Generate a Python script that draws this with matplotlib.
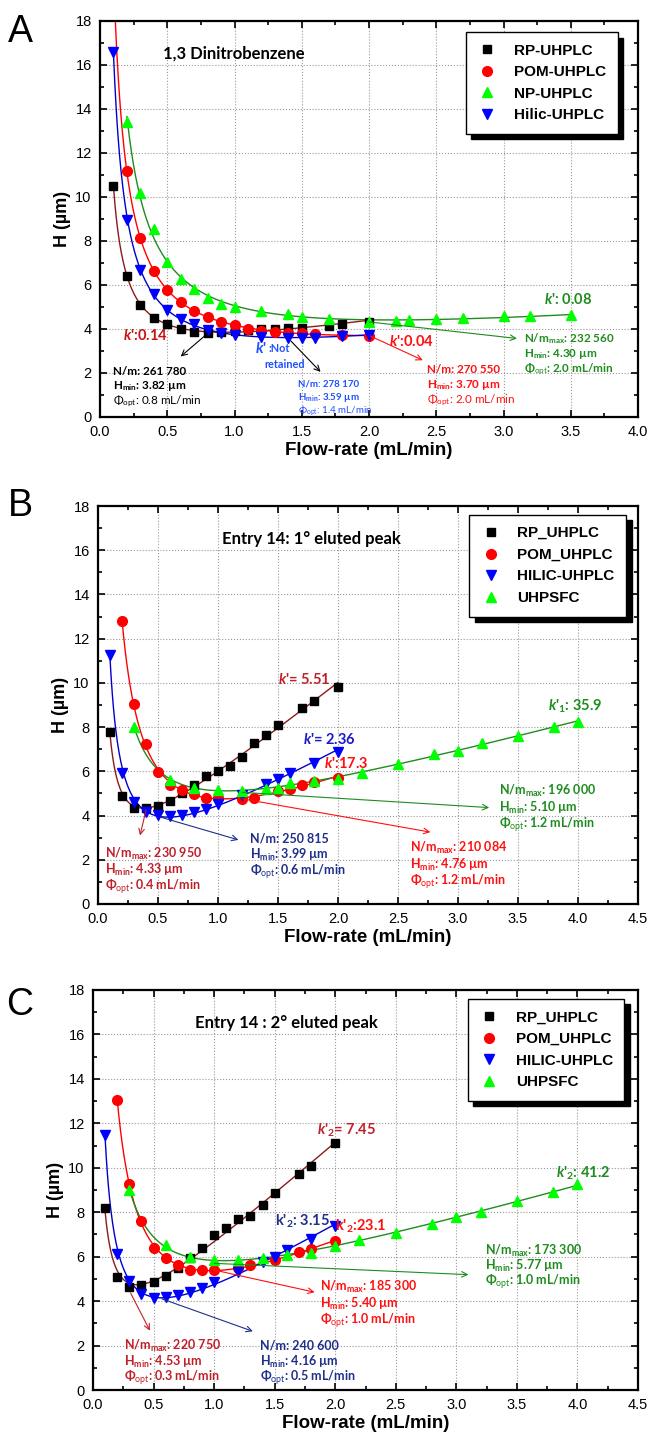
import numpy as np
import matplotlib.pyplot as plt
from matplotlib.ticker import MultipleLocator, FormatStrFormatter
from matplotlib.patches import Shadow

plt.rcParams['font.family'] = ['Liberation Sans', 'DejaVu Sans']
plt.rcParams['mathtext.fontset'] = 'custom'
plt.rcParams['mathtext.rm'] = 'Lato'
plt.rcParams['mathtext.bf'] = 'Lato:bold'
plt.rcParams['mathtext.it'] = 'Lato:italic:bold'

# ---- panel A : 1,3 dinitrobenzene ----
a_rp_x = [0.1, 0.2, 0.3, 0.4, 0.5, 0.6, 0.7, 0.8, 0.9, 1.0, 1.1, 1.2, 1.3, 1.4, 1.5, 1.7, 1.8, 2.0]
a_rp_h = [10.5, 6.41, 5.1, 4.52, 4.22, 3.98, 3.87, 3.82, 3.87, 3.91, 3.95, 3.98, 4.0, 4.03, 4.06, 4.15, 4.25, 4.32]
a_pom_x = [0.1, 0.2, 0.3, 0.4, 0.5, 0.6, 0.7, 0.8, 0.9, 1.0, 1.1, 1.2, 1.3, 1.4, 1.5, 1.6, 1.8, 2.0]
a_pom_h = [20.2, 11.2, 8.14, 6.64, 5.79, 5.22, 4.81, 4.55, 4.31, 4.17, 4.02, 3.92, 3.87, 3.84, 3.8, 3.77, 3.75, 3.70]
a_np_x = [0.2, 0.3, 0.4, 0.5, 0.6, 0.7, 0.8, 0.9, 1.0, 1.2, 1.4, 1.5, 1.7, 2.0, 2.2, 2.3, 2.5, 2.7, 3.0, 3.2, 3.5]
a_np_h = [13.4, 10.2, 8.56, 7.05, 6.29, 5.8, 5.42, 5.12, 5.0, 4.82, 4.67, 4.55, 4.45, 4.32, 4.38, 4.41, 4.45, 4.51, 4.57, 4.6, 4.65]
a_hil_x = [0.1, 0.2, 0.3, 0.4, 0.5, 0.6, 0.7, 0.8, 0.9, 1.0, 1.2, 1.4, 1.5, 1.6, 1.8, 2.0]
a_hil_h = [16.6, 8.97, 6.7, 5.6, 4.86, 4.47, 4.22, 3.97, 3.84, 3.75, 3.64, 3.59, 3.6, 3.6, 3.69, 3.72]
a_labels = ['RP-UHPLC', 'POM-UHPLC', 'NP-UHPLC', 'Hilic-UHPLC']

# ---- panel B : entry 14, 1st eluted peak ----
b_rp_x = [0.1, 0.2, 0.3, 0.4, 0.5, 0.6, 0.7, 0.8, 0.9, 1.0, 1.1, 1.2, 1.3, 1.4, 1.5, 1.7, 1.8, 2.0]
b_rp_h = [7.76, 4.88, 4.36, 4.33, 4.45, 4.68, 5.0, 5.37, 5.79, 6.02, 6.22, 6.67, 7.29, 7.63, 8.08, 8.85, 9.2, 9.8]
b_pom_x = [0.2, 0.3, 0.4, 0.5, 0.6, 0.7, 0.8, 0.9, 1.0, 1.2, 1.3, 1.5, 1.6, 1.7, 1.8, 2.0]
b_pom_h = [12.8, 9.03, 7.22, 5.99, 5.4, 5.14, 4.99, 4.81, 4.8, 4.76, 4.8, 5.11, 5.19, 5.37, 5.52, 5.72]
b_hil_x = [0.1, 0.2, 0.3, 0.4, 0.5, 0.6, 0.7, 0.8, 0.9, 1.0, 1.2, 1.4, 1.5, 1.6, 1.8, 2.0]
b_hil_h = [11.27, 5.93, 4.61, 4.16, 4.04, 3.99, 4.02, 4.16, 4.31, 4.54, 4.95, 5.42, 5.64, 5.93, 6.38, 6.86]
b_sfc_x = [0.3, 0.6, 0.8, 1.0, 1.2, 1.4, 1.5, 1.6, 1.8, 2.0, 2.2, 2.5, 2.8, 3.0, 3.2, 3.5, 3.8, 4.0]
b_sfc_h = [8.02, 5.63, 5.26, 5.17, 5.10, 5.22, 5.26, 5.48, 5.57, 5.67, 5.93, 6.32, 6.78, 6.93, 7.26, 7.59, 8.02, 8.25]
bc_labels = ['RP_UHPLC', 'POM_UHPLC', 'HILIC-UHPLC', 'UHPSFC']

# ---- panel C : entry 14, 2nd eluted peak ----
c_rp_x = [0.1, 0.2, 0.3, 0.4, 0.5, 0.6, 0.7, 0.8, 0.9, 1.0, 1.1, 1.2, 1.3, 1.4, 1.5, 1.7, 1.8, 2.0]
c_rp_h = [8.19, 5.1, 4.65, 4.72, 4.87, 5.14, 5.5, 5.96, 6.41, 6.96, 7.27, 7.68, 7.85, 8.33, 8.87, 9.73, 10.06, 11.1]
c_pom_x = [0.2, 0.3, 0.4, 0.5, 0.6, 0.7, 0.8, 0.9, 1.0, 1.2, 1.3, 1.5, 1.7, 1.8, 2.0]
c_pom_h = [13.04, 9.29, 7.6, 6.41, 5.93, 5.62, 5.41, 5.4, 5.4, 5.51, 5.63, 5.84, 6.23, 6.33, 6.7]
c_hil_x = [0.1, 0.2, 0.3, 0.4, 0.5, 0.6, 0.7, 0.8, 0.9, 1.0, 1.2, 1.4, 1.5, 1.6, 1.8, 2.0]
c_hil_h = [11.48, 6.11, 4.92, 4.32, 4.16, 4.2, 4.28, 4.4, 4.58, 4.87, 5.32, 5.77, 5.99, 6.3, 6.81, 7.38]
c_sfc_x = [0.3, 0.6, 0.8, 1.0, 1.2, 1.4, 1.6, 1.8, 2.0, 2.2, 2.5, 2.8, 3.0, 3.2, 3.5, 3.8, 4.0]
c_sfc_h = [9.0, 6.51, 5.99, 5.85, 5.86, 5.96, 6.07, 6.18, 6.48, 6.74, 7.08, 7.48, 7.79, 8.0, 8.49, 8.92, 9.29]

# marker style, marker colour, line colour
RP = dict(marker='s', mc='black', lc='#8B1A1A', ms=6)
POM = dict(marker='o', mc='#FF0000', lc='#FF0000', ms=7)
SFC = dict(marker='^', mc='#00FF00', lc='#1E8C1E', ms=7.5)
HIL = dict(marker='v', mc='#0000FF', lc='#0000CC', ms=7.5)

DRED = '#C0202A'
RED = '#FF1010'
GRN = '#1E8C1E'
NAVY = '#1F2F8A'
ANN = ['Lato', 'DejaVu Sans']

W, H = 656, 1451
fig = plt.figure(figsize=(W / 100, H / 100), dpi=100)


def add_ax(l, r, t, b):
    return fig.add_axes([l / W, 1 - b / H, (r - l) / W, (b - t) / H])


def vd_curve(x, h):
    # van Deemter fit  H = A + B/u + C*u
    x = np.asarray(x, float)
    h = np.asarray(h, float)
    M = np.column_stack([np.ones_like(x), 1 / x, x])
    c = np.linalg.lstsq(M, h, rcond=None)[0]
    xx = np.linspace(x.min(), x.max(), 400)
    return xx, c[0] + c[1] / xx + c[2] * xx


def series(ax, x, h, st, label):
    xx, yy = vd_curve(x, h)
    ax.plot(xx, yy, color=st['lc'], lw=1.0, zorder=2)
    ax.plot(x, h, ls='none', marker=st['marker'], ms=st['ms'], mfc=st['mc'],
            mec=st['mc'], zorder=3, label=label)


def style(ax, xmax):
    ax.set_xlim(0, xmax)
    ax.set_ylim(0, 18)
    ax.xaxis.set_major_locator(MultipleLocator(0.5))
    ax.xaxis.set_minor_locator(MultipleLocator(0.25))
    ax.yaxis.set_major_locator(MultipleLocator(2))
    ax.yaxis.set_minor_locator(MultipleLocator(1))
    ax.xaxis.set_major_formatter(FormatStrFormatter('%.1f'))
    ax.tick_params(which='both', direction='in', top=True, right=True, width=1.2,
                   labelsize=10.5)
    ax.tick_params(which='major', length=5)
    ax.tick_params(which='minor', length=3)
    ax.tick_params(axis='x', pad=6)
    ax.tick_params(axis='y', pad=6)
    ax.grid(True, which='major', ls=':', color='#999999', lw=0.8)
    for s in ax.spines.values():
        s.set_linewidth(1.6)
    ax.set_xlabel('Flow-rate (mL/min)', fontsize=13.5, fontweight='bold', labelpad=2)
    ax.set_ylabel('H (µm)', fontsize=13, fontweight='bold', labelpad=3)


def legend(ax, anchor):
    leg = ax.legend(loc='upper right', bbox_to_anchor=anchor, borderaxespad=0,
                    fancybox=False, edgecolor='black', framealpha=1,
                    prop=dict(weight='bold', size=11), handletextpad=1.1,
                    borderpad=0.75, labelspacing=0.5, handlelength=1.3)
    leg.get_frame().set_linewidth(1.0)
    return leg


def note(ax, x, y, lines, color, size=9, dy=0.75, weights=None):
    for i, s in enumerate(lines):
        w = 'bold' if weights is None else weights[i]
        ax.text(x, y - i * dy, s, color=color, fontsize=size, fontweight=w,
                family=ANN, va='center', ha='left', zorder=6)


def arrow(ax, start, end, color):
    ax.annotate('', xy=end, xytext=start, zorder=6,
                arrowprops=dict(arrowstyle='->', color=color, lw=0.8,
                                shrinkA=0, shrinkB=0, mutation_scale=10))


def ktext(ax, x, y, s, color, size=10.5):
    ax.text(x, y, s, color=color, fontsize=size, fontweight='bold', family=ANN,
            va='center', ha='left', zorder=6)


# ================= panel A =================
axA = add_ax(100, 638, 21, 417)
series(axA, a_rp_x, a_rp_h, RP, a_labels[0])
series(axA, a_pom_x, a_pom_h, POM, a_labels[1])
series(axA, a_np_x, a_np_h, SFC, a_labels[2])
series(axA, a_hil_x, a_hil_h, HIL, a_labels[3])
style(axA, 4.0)
legA = legend(axA, (0.962, 0.972))
axA.text(0.47, 16.5, '1,3 Dinitrobenzene', fontsize=12, fontweight='bold',
         family=ANN, va='center')

ktext(axA, 0.17, 3.7, r"$\mathit{k}$':0.14", '#CC1010')
arrow(axA, (0.8, 3.8), (0.6, 2.75), 'black')
note(axA, 0.1, 2.05, ['N/m: 261 780', r'H$_{\mathbf{min}}$: 3.82 µm',
                      r'Φ$_{\mathrm{opt}}$: 0.8 mL/min'], 'black', size=8.4, dy=0.66,
     weights=['bold', 'bold', 'normal'])
ktext(axA, 1.15, 3.1, r"$\mathit{k}$'", '#1E50FF', size=11)
ktext(axA, 1.25, 3.1, ':Not', '#1E50FF', size=7.8)
ktext(axA, 1.22, 2.38, 'retained', '#1E50FF', size=7.8)
arrow(axA, (1.42, 3.45), (1.64, 2.05), 'black')
note(axA, 1.47, 1.51, ['N/m: 278 170', r'H$_{\mathbf{min}}$: 3.59 µm',
                       r'Φ$_{\mathrm{opt}}$: 1.4 mL/min'], '#1E50FF', size=7, dy=0.61,
     weights=['bold', 'bold', 'normal'])
ktext(axA, 2.15, 3.45, r"$\mathit{k}$':0.04", RED)
arrow(axA, (2.01, 3.68), (2.4, 2.58), RED)
note(axA, 2.43, 2.15, ['N/m: 270 550', r'H$_{\mathbf{min}}$: 3.70 µm',
                       r'Φ$_{\mathrm{opt}}$: 2.0 mL/min'], RED, size=8.4, dy=0.7,
     weights=['bold', 'bold', 'normal'])
ktext(axA, 3.3, 5.35, r"$\mathit{k}$': 0.08", GRN)
arrow(axA, (2.0, 4.32), (3.1, 3.57), GRN)
note(axA, 3.15, 3.57, [r'N/m$_{\mathbf{max}}$: 232 560', r'H$_{\mathbf{min}}$: 4.30 µm',
                       r'Φ$_{\mathrm{opt}}$: 2.0 mL/min'], GRN, size=8.4, dy=0.71)

# ================= panel B =================
axB = add_ax(98, 638, 506, 904)
series(axB, b_rp_x, b_rp_h, RP, bc_labels[0])
series(axB, b_pom_x, b_pom_h, POM, bc_labels[1])
series(axB, b_hil_x, b_hil_h, HIL, bc_labels[2])
series(axB, b_sfc_x, b_sfc_h, SFC, bc_labels[3])
style(axB, 4.5)
legB = legend(axB, (0.978, 0.978))
axB.text(1.78, 16.5, 'Entry 14: 1° eluted peak', fontsize=12, fontweight='bold',
         family=ANN, va='center', ha='center')

ktext(axB, 1.5, 10.15, r"$\mathit{k}$'= 5.51", DRED)
ktext(axB, 1.71, 7.44, r"$\mathit{k}$'= 2.36", '#1A1ACC')
ktext(axB, 1.88, 6.35, r"$\mathit{k}$':17.3", RED)
ktext(axB, 3.75, 8.93, r"$\mathit{k}$'$_{\mathbf{1}}$: 35.9", GRN)
arrow(axB, (0.4, 4.24), (0.35, 3.1), DRED)
note(axB, 0.06, 2.27, [r'N/m$_{\mathbf{max}}$: 230 950', r'H$_{\mathbf{min}}$: 4.33 µm',
                       r'Φ$_{\mathrm{opt}}$: 0.4 mL/min'], DRED)
arrow(axB, (0.52, 3.93), (1.17, 2.9), NAVY)
note(axB, 1.27, 2.95, ['N/m: 250 815', r'H$_{\mathbf{min}}$: 3.99 µm',
                       r'Φ$_{\mathrm{opt}}$: 0.6 mL/min'], NAVY)
arrow(axB, (1.2, 4.76), (2.77, 3.25), RED)
note(axB, 2.6, 2.53, [r'N/m$_{\mathbf{max}}$: 210 084', r'H$_{\mathbf{min}}$: 4.76 µm',
                      r'Φ$_{\mathrm{opt}}$: 1.2 mL/min'], RED)
arrow(axB, (1.2, 5.05), (3.26, 4.36), GRN)
note(axB, 3.34, 5.11, [r'N/m$_{\mathbf{max}}$: 196 000', r'H$_{\mathbf{min}}$: 5.10 µm',
                       r'Φ$_{\mathrm{opt}}$: 1.2 mL/min'], GRN)

# ================= panel C =================
axC = add_ax(93, 638, 990, 1390)
series(axC, c_rp_x, c_rp_h, RP, bc_labels[0])
series(axC, c_pom_x, c_pom_h, POM, bc_labels[1])
series(axC, c_hil_x, c_hil_h, HIL, bc_labels[2])
series(axC, c_sfc_x, c_sfc_h, SFC, bc_labels[3])
style(axC, 4.5)
legC = legend(axC, (0.975, 0.978))
axC.text(1.6, 16.5, 'Entry 14 : 2° eluted peak', fontsize=12, fontweight='bold',
         family=ANN, va='center', ha='center')

ktext(axC, 1.85, 11.7, r"$\mathit{k}$'$_{\mathbf{2}}$= 7.45", DRED)
ktext(axC, 3.82, 9.73, r"$\mathit{k}$'$_{\mathbf{2}}$: 41.2", GRN)
ktext(axC, 1.5, 7.6, r"k'$_{\mathbf{2}}$: 3.15", NAVY)
ktext(axC, 2.0, 7.35, r"k'$_{\mathbf{2}}$:23.1", RED)
arrow(axC, (0.31, 4.37), (0.47, 2.67), DRED)
note(axC, 0.26, 2.0, [r'N/m$_{\mathbf{max}}$: 220 750', r'H$_{\mathbf{min}}$: 4.53 µm',
                      r'Φ$_{\mathrm{opt}}$: 0.3 mL/min'], DRED, dy=0.73)
arrow(axC, (0.57, 4.1), (1.32, 2.64), NAVY)
note(axC, 1.38, 2.0, ['N/m: 240 600', r'H$_{\mathbf{min}}$: 4.16 µm',
                      r'Φ$_{\mathrm{opt}}$: 0.5 mL/min'], NAVY, dy=0.73)
arrow(axC, (1.0, 5.4), (1.83, 4.4), RED)
note(axC, 1.875, 4.62, [r'N/m$_{\mathbf{max}}$: 185 300', r'H$_{\mathbf{min}}$: 5.40 µm',
                        r'Φ$_{\mathrm{opt}}$: 1.0 mL/min'], RED, dy=0.74)
arrow(axC, (1.0, 5.7), (3.1, 5.19), GRN)
note(axC, 3.24, 6.26, [r'N/m$_{\mathbf{max}}$: 173 300', r'H$_{\mathbf{min}}$: 5.77 µm',
                       r'Φ$_{\mathrm{opt}}$: 1.0 mL/min'], GRN, dy=0.7)

# panel letters
for lab, yy in [('A', 32), ('B', 506), ('C', 1005)]:
    fig.text(20 / W, 1 - yy / H, lab, fontsize=27, ha='center', va='center')

# black drop shadows behind the legends
fig.canvas.draw()
for ax, leg in [(axA, legA), (axB, legB), (axC, legC)]:
    sh = Shadow(leg.legendPatch, 4, -4, facecolor='black', edgecolor='black',
                alpha=1, zorder=4.9)
    sh.set_clip_on(False)
    ax.add_artist(sh)

fig.savefig('out.png', dpi=100)
